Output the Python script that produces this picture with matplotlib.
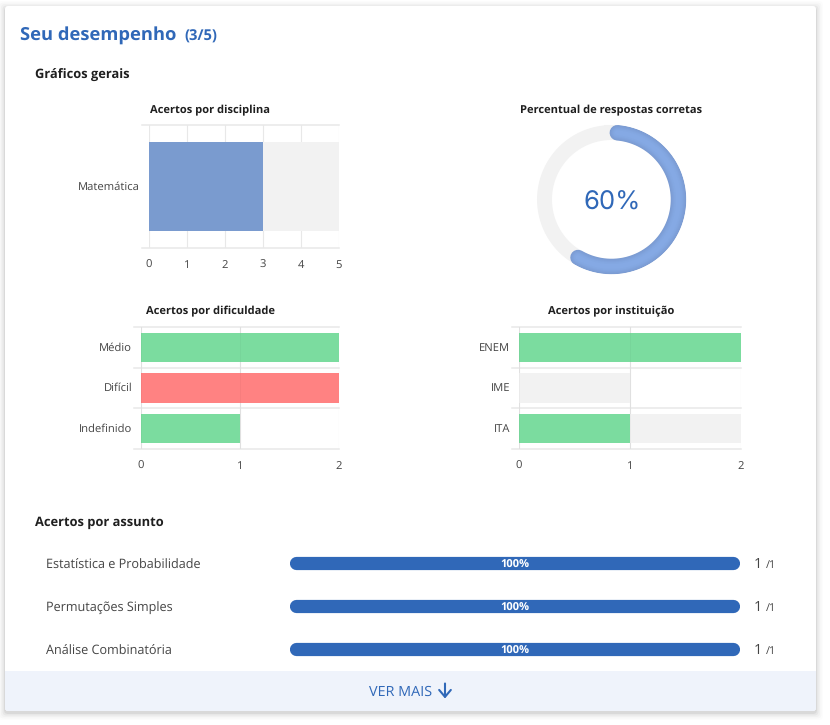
import numpy as np
import matplotlib
matplotlib.use("Agg")
import matplotlib.pyplot as plt
from matplotlib.patches import FancyBboxPatch, Rectangle
from matplotlib.transforms import ScaledTranslation

plt.rcParams['font.family'] = ['Open Sans', 'DejaVu Sans']
plt.rcParams['text.hinting'] = 'none'

W, H = 830, 725

disc_labels = ["Matemática"]
disc_hits = [3]
disc_total = [5]

pct_correct = 60

dif_labels = ["Médio", "Difícil", "Indefinido"]
dif_hits = [2, 2, 1]
dif_total = [2, 2, 1]
dif_colors = ["#7bdc9f", "#ff8282", "#7bdc9f"]

inst_labels = ["ENEM", "IME", "ITA"]
inst_hits = [2, 0, 1]
inst_total = [2, 1, 2]

topics = ["Estatística e Probabilidade", "Permutações Simples", "Análise Combinatória"]
topic_hits = [1, 1, 1]
topic_total = [1, 1, 1]

BLUE = "#3068b8"
DARK = "#1f1f1f"
GREY = "#444444"
GRID = "#e8e8e8"
TRACK = "#f2f2f2"


def px_axes(fig, x0, y0, x1, y1, **kw):
    # position given in image pixels, y going down
    return fig.add_axes([x0 / W, 1 - y1 / H, (x1 - x0) / W, (y1 - y0) / H], **kw)


def hbar_chart(fig, box, labels, hits, total, colors, xmax, title, title_x, title_y, over=0.0, overhang=7):
    ax = px_axes(fig, *box)
    y = np.arange(len(labels))
    ax.barh(y, total, height=0.725, color=TRACK, zorder=2)
    ax.barh(y, hits, height=0.725, color=colors, zorder=2)
    for v in range(xmax + 1):
        ax.axvline(v, color=GRID, lw=0.8, zorder=1.5)
        if over:
            # grid shows faintly through the coloured bars
            ax.axvline(v, color="#000000", lw=0.8, alpha=over, zorder=3)
    ax.set_xlim(0, xmax)
    ax.set_ylim(len(labels) - 0.5, -0.5)
    ax.set_xticks(range(xmax + 1))
    ax.set_yticks(y, labels)
    for s in ax.spines.values():
        s.set_visible(False)
    ax.tick_params(axis='x', length=0, pad=8.6, labelsize=8.1, labelcolor=GREY)
    ax.tick_params(axis='y', length=0, pad=6.4, labelsize=8.1, labelcolor=GREY)
    for lab in ax.get_yticklabels():
        lab.set_verticalalignment('center')
        lab.set_transform(lab.get_transform() + ScaledTranslation(0, -0.5 / 100, fig.dpi_scale_trans))
    # band separators run out past the axis like tick marks
    frac = overhang / (box[2] - box[0])
    for edge in np.arange(len(labels) + 1) - 0.5:
        ax.plot([-frac, 1], [edge, edge], color=GRID, lw=1.1, clip_on=False,
                transform=ax.get_yaxis_transform(), zorder=1.5)
    fig.text(title_x / W, 1 - title_y / H, title, ha='center', va='center',
             fontsize=8.0, fontweight='bold', color=DARK)
    return ax


fig = plt.figure(figsize=(W / 100, H / 100), dpi=100, facecolor='white')
bg = px_axes(fig, 0, 0, W, H)
bg.set_xlim(0, W)
bg.set_ylim(H, 0)
bg.axis('off')

# card shadow
for grow, a in [(7, 0.012), (5.5, 0.018), (4, 0.025), (2.5, 0.04), (1, 0.06)]:
    bg.add_patch(FancyBboxPatch((5 - grow, 6 - grow + 2), 811 + 2 * grow, 705 + 2 * grow,
                                boxstyle="round,pad=0,rounding_size=4", fc='black', ec='none', alpha=a))
bg.add_patch(FancyBboxPatch((5, 6), 811, 705, boxstyle="round,pad=0,rounding_size=3", fc='white', ec='none'))
bg.add_patch(FancyBboxPatch((5, 671), 811, 40, boxstyle="round,pad=0,rounding_size=3", fc='#eff3fb', ec='none'))
bg.add_patch(Rectangle((5, 671), 811, 10, fc='#eff3fb', ec='none'))

bg.text(20, 36, "Seu desempenho", fontsize=13.2, fontweight='bold', color=BLUE, va='center')
bg.text(184, 37, "(3/5)", fontsize=10.6, fontweight='bold', color=BLUE, va='center')
bg.text(35, 75.5, "Gráficos gerais", fontsize=9.3, fontweight='bold', color=DARK, va='center')
bg.text(35, 522.5, "Acertos por assunto", fontsize=9.3, fontweight='bold', color=DARK, va='center')

hbar_chart(fig, (149, 125, 339, 248), disc_labels, disc_hits, disc_total, ["#7a9bcf"], 5,
           "Acertos por disciplina", 210, 110)
hbar_chart(fig, (141, 327, 339, 449), dif_labels, dif_hits, dif_total, dif_colors, 2,
           "Acertos por dificuldade", 210, 311.5, over=0.03)
hbar_chart(fig, (519, 327, 741, 449), inst_labels, inst_hits, inst_total, ["#7bdc9f"] * 3, 2,
           "Acertos por instituição", 611, 311.5, over=0.03)

# donut
donut = px_axes(fig, 611.5 - 75, 199.5 - 75, 611.5 + 75, 199.5 + 75, projection='polar')
donut.set_theta_zero_location('N')
donut.set_theta_direction(-1)
donut.set_ylim(0, 75)
donut.axis('off')
ring = 67
th = np.linspace(0, 2 * np.pi, 361)
donut.plot(th, np.full_like(th, ring), color=TRACK, lw=15 * 0.72)
arc = np.radians(np.linspace(5, 5 + (pct_correct / 100 * 360 - 11), 200))
for lw, c in [(15.5, "#7b9bd2"), (14, "#7d9ed6"), (12, "#7fa1da"), (10, "#81a4de"), (8, "#83a7e1"), (5, "#85a9e4")]:
    donut.plot(arc, np.full_like(arc, ring), color=c, lw=lw * 0.72, solid_capstyle='round')
bg.text(612, 203, f"{pct_correct}%", fontsize=18.5, color=BLUE, ha='center', va='center',
        family=['Inter', 'DejaVu Sans'], zorder=5)
fig.text(611.5 / W, 1 - 110 / H, "Percentual de respostas corretas", ha='center', va='center',
         fontsize=8.0, fontweight='bold', color=DARK)

# subject progress bars
pb = px_axes(fig, 296, 541.5, 733, 670.5, facecolor='none')
pb.set_xlim(0, 1)
pb.set_ylim(2.5, -0.5)
pb.axis('off')
for i, (name, hit, tot) in enumerate(zip(topics, topic_hits, topic_total)):
    frac = hit / tot
    pb.plot([0, frac], [i, i], color=BLUE, lw=13.2 * 0.72, solid_capstyle='round', clip_on=False)
    pb.annotate(f"{frac:.0%}", xy=(0.5 * frac, i), xytext=(0, -1.4), textcoords='offset points',
                color='white', fontsize=8, fontweight='bold', ha='center', va='center')
    py = 564 + 43 * i
    bg.text(45.5, py + 4.5, name, fontsize=9.1, color=GREY, va='baseline')
    bg.text(754, py + 0.5, str(hit), fontsize=10.4, color=GREY, va='center')
    bg.text(766, py + 1, f"/{tot}", fontsize=7.8, color=GREY, va='center')

bg.text(400.5, 692, "VER MAIS", fontsize=10.4, color=BLUE, ha='center', va='center')
bg.annotate("", xy=(445, 698.5), xytext=(445, 683.5),
            arrowprops=dict(arrowstyle="->,head_width=0.42,head_length=0.5", color=BLUE, lw=1.5,
                            shrinkA=0, shrinkB=0))

fig.savefig("out.png", dpi=100)
